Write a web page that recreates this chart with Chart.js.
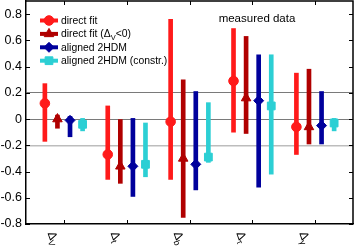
<!DOCTYPE html>
<html>
<head>
<meta charset="utf-8">
<script src="https://cdn.jsdelivr.net/npm/chart.js@4"></script>
<style>
html, body { margin: 0; padding: 0; background: #fff; }
</style>
</head>
<body>
<canvas id="myChart" width="354" height="248"></canvas>
<script>
// categories (Δ with subscript after "_")
const categories = ['Δ_V', 'Δ_t', 'Δ_b', 'Δ_τ', 'Δ_γ'];
const yTicks = [-0.8, -0.6, -0.4, -0.2, 0, 0.2, 0.4, 0.6, 0.8];
const seriesNames = ['direct fit', 'direct fit (Δ_V<0)', 'aligned 2HDM', 'aligned 2HDM (constr.)'];

// central values and error ranges
const directFit = [0.12, -0.27, -0.02, 0.29, -0.06];
const directFitLow = [-0.17, -0.46, -0.46, -0.10, -0.27];
const directFitHigh = [0.27, 0.10, 0.76, 0.69, 0.35];

const directNeg = [0.0, -0.36, -0.30, 0.16, -0.06];
const directNegLow = [-0.07, -0.49, -0.75, -0.11, -0.19];
const directNegHigh = [0.03, 0.0, 0.30, 0.63, 0.38];

const aligned = [-0.01, -0.36, -0.345, 0.14, -0.05];
const alignedLow = [-0.135, -0.59, -0.54, -0.52, -0.19];
const alignedHigh = [0.02, 0.005, 0.21, 0.49, 0.21];

const alignedC = [-0.04, -0.345, -0.29, 0.10, -0.03];
const alignedCLow = [-0.09, -0.44, -0.33, -0.42, -0.09];
const alignedCHigh = [0.005, -0.03, 0.125, 0.49, 0.005];

const FONT = "'Liberation Sans', Arial, sans-serif";
const groupOffset = [-0.3, -0.1, 0.1, 0.3];
const styles = [
    { color: '#ff1a1a', point: 'circle', radius: 4.8 },
    { color: '#b00000', point: 'triangle', radius: 5.5 },
    { color: '#00009c', point: 'rectRot', radius: 5 },
    { color: '#2ccfd4', point: 'rect', radius: 5.5 }
];
const series = [
    [directFit, directFitLow, directFitHigh],
    [directNeg, directNegLow, directNegHigh],
    [aligned, alignedLow, alignedHigh],
    [alignedC, alignedCLow, alignedCHigh]
];

const datasets = [];
series.forEach(([mid, lo, hi], s) => {
    const st = styles[s];
    // error bars as floating bars
    datasets.push({
        type: 'bar',
        label: seriesNames[s] + ' range',
        data: categories.map((c, i) => ({ x: i + groupOffset[s], y: [lo[i], hi[i]] })),
        backgroundColor: st.color,
        barThickness: 4,
        grouped: false,
        order: 1
    });
    datasets.push({
        type: 'scatter',
        label: seriesNames[s],
        data: categories.map((c, i) => ({ x: i + groupOffset[s], y: mid[i] })),
        pointStyle: st.point,
        pointRadius: st.radius,
        backgroundColor: st.color,
        borderColor: st.color,
        borderWidth: 1,
        order: 0
    });
});

// text with single-char subscripts written as "_X"
function drawRich(ctx, text, x, y, size) {
    const parts = text.split(/_(.)/);
    let cx = x;
    parts.forEach((p, k) => {
        if (!p) return;
        const sub = k % 2 === 1;
        ctx.font = (sub ? size * 0.72 : size) + 'px ' + FONT;
        ctx.fillText(p, cx, y + (sub ? size * 0.3 : 0));
        cx += ctx.measureText(p).width;
    });
}

const framePlugin = {
    id: 'frame',
    afterDraw(chart) {
        const { ctx, chartArea: a, scales: { x, y } } = chart;
        ctx.save();
        ctx.strokeStyle = '#000';
        ctx.lineWidth = 1.5;
        ctx.beginPath();
        ctx.moveTo(a.left, a.top); ctx.lineTo(a.right, a.top); ctx.lineTo(a.right, a.bottom);
        ctx.stroke();
        // inward ticks
        ctx.lineWidth = 1;
        ctx.beginPath();
        yTicks.forEach(v => {
            const py = Math.round(y.getPixelForValue(v)) + 0.5;
            ctx.moveTo(a.left, py); ctx.lineTo(a.left + 4, py);
            ctx.moveTo(a.right, py); ctx.lineTo(a.right - 4, py);
        });
        categories.forEach((c, i) => {
            const px = Math.round(x.getPixelForValue(i)) + 0.5;
            ctx.moveTo(px, a.bottom); ctx.lineTo(px, a.bottom - 4);
            ctx.moveTo(px, a.top); ctx.lineTo(px, a.top + 4);
        });
        ctx.stroke();

        // rotated category labels
        ctx.fillStyle = '#000';
        ctx.textBaseline = 'middle';
        ctx.textAlign = 'left';
        categories.forEach((c, i) => {
            const px = x.getPixelForValue(i);
            ctx.save();
            ctx.translate(px - 13, a.bottom + 8);
            ctx.rotate(70 * Math.PI / 180);
            drawRich(ctx, c, 0, 0, 12);
            ctx.restore();
        });

        // legend
        const pts = chart.data.datasets.filter(d => d.type === 'scatter');
        pts.forEach((d, k) => {
            const ly = 20.5 + k * 13.4;
            ctx.strokeStyle = d.backgroundColor;
            ctx.lineWidth = 4;
            ctx.beginPath();
            ctx.moveTo(40, ly); ctx.lineTo(58, ly);
            ctx.stroke();
            ctx.fillStyle = d.backgroundColor;
            ctx.strokeStyle = d.backgroundColor;
            ctx.lineWidth = 1;
            Chart.helpers.drawPoint(ctx, { pointStyle: d.pointStyle, radius: d.pointRadius, borderWidth: 1 }, 49, ly);
            ctx.fillStyle = '#000';
            ctx.textBaseline = 'middle';
            drawRich(ctx, d.label, 61, ly + 0.5, 10.4);
        });

        ctx.font = '11.5px ' + FONT;
        ctx.textAlign = 'center';
        ctx.fillText('measured data', 257, 19);
        ctx.restore();
    }
};

new Chart(document.getElementById('myChart'), {
    type: 'scatter',
    data: { datasets: datasets },
    options: {
        responsive: false,
        animation: false,
        layout: { autoPadding: false, padding: { top: 1, right: 1, left: 0, bottom: 0 } },
        scales: {
            x: {
                type: 'linear',
                min: -0.6,
                max: 4.6,
                offset: false,
                grid: { display: false, drawTicks: false },
                border: { display: true, color: '#000', width: 1.5 },
                ticks: { display: false },
                afterFit(s) {
                    s.height = 24;
                    s.paddingLeft = 0;
                    s.paddingRight = 0;
                }
            },
            y: {
                type: 'linear',
                min: -0.8,
                max: 0.9,
                afterBuildTicks(s) { s.ticks = yTicks.map(v => ({ value: v })); },
                grid: {
                    drawTicks: false,
                    color: c => {
                        const v = c.tick ? c.tick.value : null;
                        if (v === 0.2 || v === 0) return '#7a7a7a';
                        if (v === -0.2) return '#bdbdbd';
                        return 'rgba(0,0,0,0)';
                    },
                    lineWidth: c => (c.tick && c.tick.value === -0.2 ? 1.5 : 1)
                },
                border: { display: true, color: '#000', width: 1.5 },
                ticks: {
                    padding: 4,
                    color: '#000',
                    font: { family: FONT, size: 12.5 },
                    callback: v => (v === 0 ? '0' : v.toFixed(1))
                },
                afterFit(s) {
                    s.width = 26;
                    s.paddingTop = 0;
                    s.paddingBottom = 0;
                }
            }
        },
        plugins: {
            legend: { display: false },
            tooltip: { enabled: false }
        }
    },
    plugins: [framePlugin]
});
</script>
</body>
</html>
